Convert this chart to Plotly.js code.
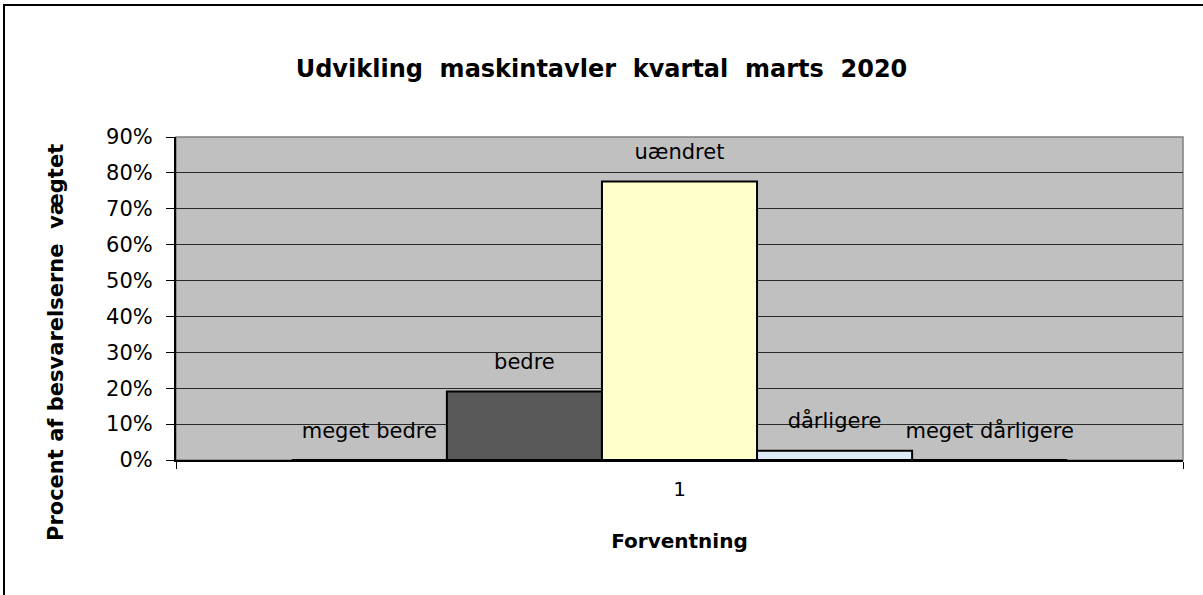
<!DOCTYPE html>
<html>
<head>
<meta charset="utf-8">
<script src="https://cdn.plot.ly/plotly-3.0.1.min.js"></script>
<style>
  html, body { margin: 0; padding: 0; background: #fff; }
  #wrap { position: relative; width: 1203px; height: 595px; }
  #chart { width: 1203px; height: 595px; }
  #frame { position: absolute; left: 3px; top: 4px; right: -2px; bottom: -2px;
           border-left: 2px solid #000; border-top: 2px solid #000; pointer-events: none; }
</style>
</head>
<body>
<div id="wrap"><div id="chart"></div><div id="frame"></div></div>
<script>
// ---- data ----
const categories = ['1'];
const seriesNames = ['meget bedre', 'bedre', 'uændret', 'dårligere', 'meget dårligere'];
const seriesValues = [0, 19.1, 77.6, 2.6, 0];
const seriesColors = ['#1F3B73', '#595959', '#FFFFCC', '#DDEBF7', '#8FB3D9'];
const yTickVals = [0, 10, 20, 30, 40, 50, 60, 70, 80, 90];
const titleText = 'Udvikling  maskintavler  kvartal  marts  2020';
const xTitleText = 'Forventning';
const yTitleText = 'Procent af besvarelserne  vægtet';

const FONT = 'DejaVu Sans, Arial, sans-serif';

const traces = [];
seriesNames.forEach((name, i) => {
  traces.push({
    type: 'bar',
    name: name,
    x: categories,
    y: [seriesValues[i]],
    marker: { color: seriesColors[i], line: { color: '#000', width: 2 } },
    showlegend: false,
    hoverinfo: 'name+y'
  });
});
seriesNames.forEach((name, i) => {
  traces.push({
    type: 'scatter',
    mode: 'markers+text',
    name: name + ' label',
    x: categories,
    y: [seriesValues[i]],
    text: [name],
    textposition: 'top center',
    textfont: { family: FONT, size: 21, color: '#000' },
    marker: { size: 26, color: 'rgba(0,0,0,0)' },
    cliponaxis: false,
    showlegend: false,
    hoverinfo: 'skip'
  });
});

const layout = {
  width: 1203,
  height: 595,
  margin: { l: 176, r: 20, t: 137, b: 135 },
  paper_bgcolor: '#ffffff',
  plot_bgcolor: '#C0C0C0',
  barmode: 'group',
  bargap: 0.23,
  bargroupgap: 0,
  scattermode: 'group',
  scattergap: 0.23,
  showlegend: false,
  font: { family: FONT, color: '#000' },
  title: {
    text: titleText,
    font: { family: FONT, size: 24, color: '#000', weight: 'bold' },
    x: 0.5, xref: 'container', xanchor: 'center',
    y: 1 - 69 / 595, yref: 'container', yanchor: 'middle'
  },
  xaxis: {
    type: 'category',
    tickvals: categories,
    ticks: 'outside',
    tickson: 'boundaries',
    ticklen: 7,
    tickcolor: '#000',
    tickwidth: 1,
    showline: true,
    linecolor: '#000',
    linewidth: 2,
    showgrid: false,
    tickfont: { family: FONT, size: 20, color: '#000' },
    ticklabelstandoff: 10,
    title: { text: xTitleText, font: { family: FONT, size: 20, color: '#000', weight: 'bold' }, standoff: 34 },
    fixedrange: true
  },
  yaxis: {
    range: [0, 90],
    tickvals: yTickVals,
    ticktext: yTickVals.map(v => v + '%'),
    ticks: 'outside',
    ticklen: 8,
    tickcolor: '#000',
    tickwidth: 1,
    showline: true,
    linecolor: '#000',
    linewidth: 2,
    showgrid: true,
    gridcolor: '#2a2a2a',
    gridwidth: 1.2,
    zeroline: false,
    tickfont: { family: FONT, size: 21, color: '#000' },
    ticklabelstandoff: 9,
    fixedrange: true
  },
  shapes: [
    { type: 'rect', xref: 'paper', yref: 'paper', x0: 0, x1: 1, y0: 0, y1: 1,
      line: { color: '#808080', width: 1.5 }, fillcolor: 'rgba(0,0,0,0)', layer: 'below' }
  ],
  annotations: [
    { text: yTitleText, textangle: -90, xref: 'paper', yref: 'paper',
      x: (56 - 176) / 1007, y: (460 - 343) / 323, xanchor: 'center', yanchor: 'middle',
      showarrow: false, font: { family: FONT, size: 21, color: '#000', weight: 'bold' } }
  ]
};

Plotly.newPlot('chart', traces, layout, { displayModeBar: false, staticPlot: true });
</script>
</body>
</html>
